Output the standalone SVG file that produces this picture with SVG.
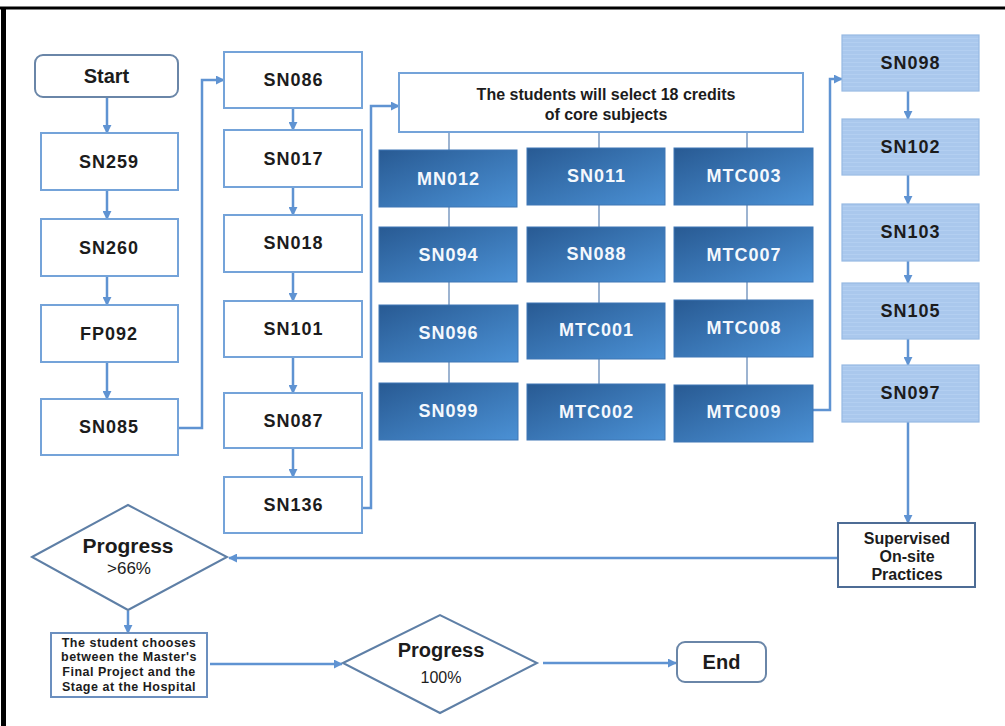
<svg xmlns="http://www.w3.org/2000/svg" width="1005" height="726" viewBox="0 0 1005 726">
<style>
.lbl{font-family:"Liberation Sans",Arial,sans-serif;font-weight:bold;font-size:18px;letter-spacing:1px;text-anchor:middle;fill:#1c1c1c}
.wlbl{font-family:"Liberation Sans",Arial,sans-serif;font-weight:bold;font-size:18px;letter-spacing:1px;text-anchor:middle;fill:#f4f8fd}
.t{font-family:"Liberation Sans",Arial,sans-serif;font-weight:bold;text-anchor:middle;fill:#1c1c1c}
.n{font-family:"Liberation Sans",Arial,sans-serif;text-anchor:middle;fill:#1c1c1c}
.wbox{fill:#ffffff;stroke:#74a3d9;stroke-width:2}
.bbox{fill:url(#bg);stroke:#3f77b5;stroke-width:1}
.lbox{fill:url(#stripes);stroke:#97b9e3;stroke-width:1.2}
.term{fill:#ffffff;stroke:#6a86a8;stroke-width:2}
.dia{fill:#ffffff;stroke:#5e7fa6;stroke-width:2}
.arr{fill:none;stroke:#5f93d2;stroke-width:2.5;marker-end:url(#ah)}
.thin{fill:none;stroke:#7d9cc2;stroke-width:1.5}
</style>
<defs>
<linearGradient id="bg" x1="0" y1="0" x2="1" y2="1">
<stop offset="0" stop-color="#285a93"/>
<stop offset="1" stop-color="#4b91d5"/>
</linearGradient>
<pattern id="stripes" width="10" height="4" patternUnits="userSpaceOnUse">
<rect width="10" height="4" fill="#aac8ed"/>
<rect y="2" width="10" height="1" fill="#b3cff1"/>
</pattern>
<marker id="ah" viewBox="0 0 10 10" refX="9" refY="5" markerWidth="9" markerHeight="9" markerUnits="userSpaceOnUse" orient="auto">
<path d="M0,0 L10,5 L0,10 z" fill="#5f93d2"/>
</marker>
</defs>
<rect width="1005" height="726" fill="#ffffff"/>
<line x1="0" y1="8" x2="1005" y2="8" stroke="#000" stroke-width="3"/>
<line x1="3.5" y1="7" x2="3.5" y2="726" stroke="#000" stroke-width="5"/>

<g id="connectors">
<path class="arr" d="M107,97 V133"/>
<path class="arr" d="M107,190 V219"/>
<path class="arr" d="M107,276 V305"/>
<path class="arr" d="M107,362 V399"/>
<path class="arr" d="M178,428 H202 V80 H224"/>
<path class="arr" d="M293,108 V130"/>
<path class="arr" d="M293,187 V215"/>
<path class="arr" d="M293,272 V301"/>
<path class="arr" d="M293,357 V393"/>
<path class="arr" d="M293,448 V477"/>
<path class="arr" d="M362,508 H371 V106 H399"/>
<path class="thin" d="M449,132 V150 M449,207 V227 M449,282 V305 M449,362 V383"/>
<path class="thin" d="M599,132 V148 M599,205 V227 M599,282 V303 M599,359 V384"/>
<path class="thin" d="M747,132 V148 M747,205 V227 M747,282 V300 M747,357 V385"/>
<path class="arr" d="M813,410 H830 V79 H842"/>
<path class="arr" d="M908,91 V119"/>
<path class="arr" d="M908,175 V204"/>
<path class="arr" d="M908,261 V283"/>
<path class="arr" d="M908,339 V365"/>
<path class="arr" d="M908,422 V523"/>
<path class="arr" d="M838,558 H229"/>
<path class="arr" d="M128,611 V633"/>
<path class="arr" d="M210,664 H342"/>
<path class="arr" d="M543,663 H676"/>
</g>

<g id="start"><rect class="term" x="35" y="55" width="143" height="42" rx="8"/><text class="t" x="106.5" y="83" font-size="20">Start</text></g>
<g id="sn259"><rect class="wbox" x="41" y="133" width="137" height="57"/><text class="lbl" x="109" y="168">SN259</text></g>
<g id="sn260"><rect class="wbox" x="41" y="219" width="137" height="57"/><text class="lbl" x="109" y="254">SN260</text></g>
<g id="fp092"><rect class="wbox" x="41" y="305" width="137" height="57"/><text class="lbl" x="109" y="340">FP092</text></g>
<g id="sn085"><rect class="wbox" x="41" y="399" width="137" height="56"/><text class="lbl" x="109" y="433">SN085</text></g>

<g id="sn086"><rect class="wbox" x="224" y="52" width="138" height="56"/><text class="lbl" x="293.5" y="86">SN086</text></g>
<g id="sn017"><rect class="wbox" x="224" y="130" width="138" height="57"/><text class="lbl" x="293.5" y="165">SN017</text></g>
<g id="sn018"><rect class="wbox" x="224" y="215" width="138" height="57"/><text class="lbl" x="293.5" y="249">SN018</text></g>
<g id="sn101"><rect class="wbox" x="224" y="301" width="138" height="56"/><text class="lbl" x="293.5" y="335">SN101</text></g>
<g id="sn087"><rect class="wbox" x="224" y="393" width="138" height="55"/><text class="lbl" x="293.5" y="427">SN087</text></g>
<g id="sn136"><rect class="wbox" x="224" y="477" width="138" height="56"/><text class="lbl" x="293.5" y="511">SN136</text></g>

<g id="core"><rect class="wbox" x="399" y="73" width="404" height="59"/><text class="t" x="606" y="100" font-size="16">The students will select 18 credits</text><text class="t" x="606" y="120" font-size="16">of core subjects</text></g>

<g id="mn012"><rect class="bbox" x="379" y="150" width="138" height="57"/><text class="wlbl" x="448.5" y="185">MN012</text></g>
<g id="sn011"><rect class="bbox" x="527" y="148" width="138" height="57"/><text class="wlbl" x="596.5" y="182">SN011</text></g>
<g id="mtc003"><rect class="bbox" x="674" y="148" width="139" height="57"/><text class="wlbl" x="744" y="182">MTC003</text></g>
<g id="sn094"><rect class="bbox" x="379" y="227" width="138" height="55"/><text class="wlbl" x="448.5" y="261">SN094</text></g>
<g id="sn088"><rect class="bbox" x="527" y="227" width="138" height="55"/><text class="wlbl" x="596.5" y="260">SN088</text></g>
<g id="mtc007"><rect class="bbox" x="674" y="227" width="139" height="55"/><text class="wlbl" x="744" y="261">MTC007</text></g>
<g id="sn096"><rect class="bbox" x="379" y="305" width="139" height="57"/><text class="wlbl" x="448.5" y="339">SN096</text></g>
<g id="mtc001"><rect class="bbox" x="527" y="303" width="138" height="56"/><text class="wlbl" x="596.5" y="336">MTC001</text></g>
<g id="mtc008"><rect class="bbox" x="674" y="300" width="139" height="57"/><text class="wlbl" x="744" y="334">MTC008</text></g>
<g id="sn099"><rect class="bbox" x="379" y="383" width="139" height="57"/><text class="wlbl" x="448.5" y="417">SN099</text></g>
<g id="mtc002"><rect class="bbox" x="527" y="384" width="138" height="56"/><text class="wlbl" x="596.5" y="418">MTC002</text></g>
<g id="mtc009"><rect class="bbox" x="674" y="385" width="139" height="57"/><text class="wlbl" x="744" y="418">MTC009</text></g>

<g id="sn098"><rect class="lbox" x="842" y="35" width="137" height="56"/><text class="lbl" x="910.5" y="69">SN098</text></g>
<g id="sn102"><rect class="lbox" x="842" y="119" width="137" height="56"/><text class="lbl" x="910.5" y="153">SN102</text></g>
<g id="sn103"><rect class="lbox" x="842" y="204" width="137" height="57"/><text class="lbl" x="910.5" y="238">SN103</text></g>
<g id="sn105"><rect class="lbox" x="842" y="283" width="137" height="56"/><text class="lbl" x="910.5" y="317">SN105</text></g>
<g id="sn097"><rect class="lbox" x="842" y="365" width="137" height="57"/><text class="lbl" x="910.5" y="399">SN097</text></g>

<g id="supervised"><rect x="838" y="523" width="137" height="64" fill="#fff" stroke="#4d6c95" stroke-width="2"/><text class="t" x="907" y="544" font-size="16">Supervised</text><text class="t" x="907" y="562" font-size="16">On-site</text><text class="t" x="907" y="580" font-size="16">Practices</text></g>

<g id="progress66"><polygon class="dia" points="32,557 128,505 227,557 128,610"/><text class="t" x="128" y="553" font-size="21">Progress</text><text class="n" x="129" y="574" font-size="17">&gt;66%</text></g>

<g id="choose"><rect x="51" y="633" width="156" height="64" fill="#fff" stroke="#6b8fbf" stroke-width="2"/>
<text class="t" x="129" y="647" font-size="12.5" letter-spacing="0.5">The student chooses</text>
<text class="t" x="129" y="661" font-size="12.5" letter-spacing="0.5">between the Master's</text>
<text class="t" x="129" y="676" font-size="12.5" letter-spacing="0.5">Final Project and the</text>
<text class="t" x="129" y="691" font-size="12.5" letter-spacing="0.5">Stage at the Hospital</text></g>

<g id="progress100"><polygon class="dia" points="343,663 440,615 537,663 440,713"/><text class="t" x="441" y="657" font-size="20">Progress</text><text class="n" x="441" y="683" font-size="16">100%</text></g>

<g id="end"><rect class="term" x="677" y="642" width="89" height="40" rx="8"/><text class="t" x="721.5" y="669" font-size="20">End</text></g>
</svg>
